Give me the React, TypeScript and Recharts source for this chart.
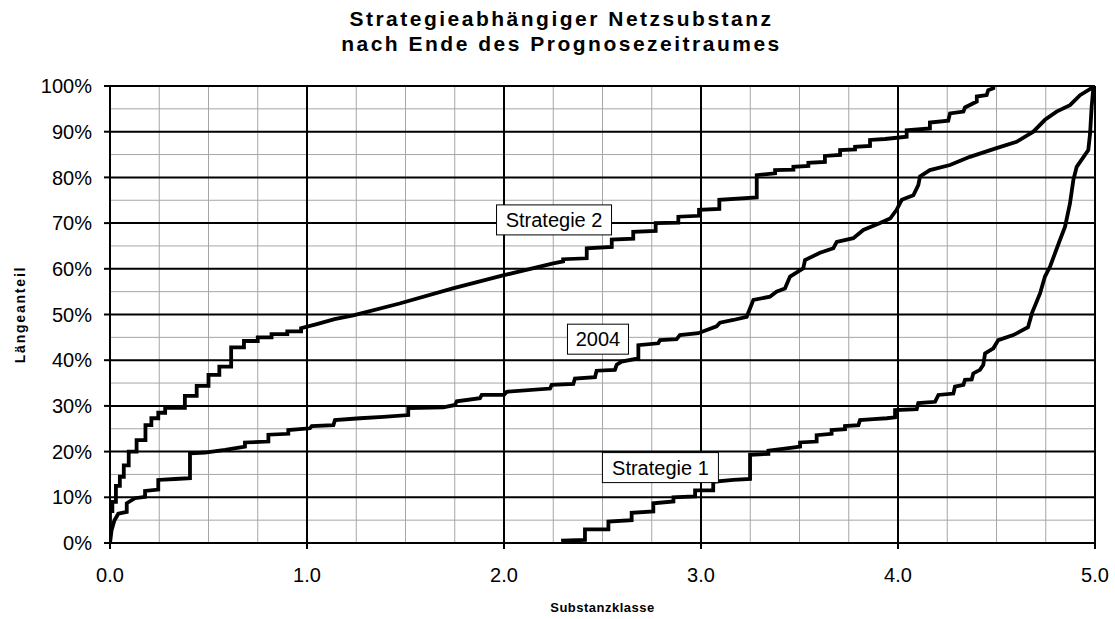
import { CartesianGrid, Line, LineChart, ReferenceDot, XAxis, YAxis } from "recharts";

const X_TICKS = [0, 1, 2, 3, 4, 5];
const Y_TICKS = [0, 10, 20, 30, 40, 50, 60, 70, 80, 90, 100];
const X_MINOR = [0.25, 0.5, 0.75, 1.25, 1.5, 1.75, 2.25, 2.5, 2.75, 3.25, 3.5, 3.75, 4.25, 4.5, 4.75];
const Y_MINOR = [5, 15, 25, 35, 45, 55, 65, 75, 85, 95];

// Substanzklasse / Längeanteil (%)
const STRATEGIE_2 = [
  { x: 0, y: 0 }, { x: 0, y: 7 }, { x: 0.012, y: 7 }, { x: 0.012, y: 9 }, { x: 0.03, y: 9 },
  { x: 0.03, y: 12.5 }, { x: 0.05, y: 12.5 }, { x: 0.05, y: 14.5 }, { x: 0.07, y: 14.5 },
  { x: 0.07, y: 17 }, { x: 0.095, y: 17 }, { x: 0.095, y: 20 }, { x: 0.135, y: 20 },
  { x: 0.135, y: 22.5 }, { x: 0.18, y: 22.5 }, { x: 0.18, y: 25.8 }, { x: 0.21, y: 25.8 },
  { x: 0.21, y: 27.3 }, { x: 0.245, y: 27.3 }, { x: 0.245, y: 28.5 }, { x: 0.28, y: 28.5 },
  { x: 0.28, y: 29.6 }, { x: 0.38, y: 29.6 }, { x: 0.38, y: 32.2 }, { x: 0.44, y: 32.2 },
  { x: 0.44, y: 34.4 }, { x: 0.5, y: 34.4 }, { x: 0.5, y: 36.8 }, { x: 0.555, y: 36.8 },
  { x: 0.555, y: 38.6 }, { x: 0.615, y: 38.6 }, { x: 0.615, y: 42.8 }, { x: 0.68, y: 42.8 },
  { x: 0.68, y: 44.2 }, { x: 0.75, y: 44.2 }, { x: 0.75, y: 45 }, { x: 0.82, y: 45 },
  { x: 0.82, y: 45.7 }, { x: 0.9, y: 45.7 }, { x: 0.9, y: 46.3 }, { x: 0.97, y: 46.3 },
  { x: 0.97, y: 47 }, { x: 1.05, y: 47.9 }, { x: 1.14, y: 49 }, { x: 1.235, y: 49.8 },
  { x: 1.47, y: 52.4 }, { x: 1.74, y: 55.7 }, { x: 2.0, y: 58.6 }, { x: 2.25, y: 61.2 },
  { x: 2.3, y: 61.6 }, { x: 2.3, y: 62.1 }, { x: 2.42, y: 62.3 }, { x: 2.42, y: 64.5 },
  { x: 2.547, y: 64.8 }, { x: 2.547, y: 66.4 }, { x: 2.656, y: 66.6 }, { x: 2.656, y: 68.1 },
  { x: 2.77, y: 68.3 }, { x: 2.77, y: 70 }, { x: 2.885, y: 70.1 }, { x: 2.885, y: 71.4 },
  { x: 2.99, y: 71.6 }, { x: 2.99, y: 72.9 }, { x: 3.093, y: 73.1 }, { x: 3.093, y: 75.1 },
  { x: 3.283, y: 75.6 }, { x: 3.283, y: 80.5 }, { x: 3.376, y: 80.9 }, { x: 3.376, y: 81.6 },
  { x: 3.469, y: 81.7 }, { x: 3.469, y: 82.3 }, { x: 3.545, y: 82.5 }, { x: 3.545, y: 83.2 },
  { x: 3.629, y: 83.4 }, { x: 3.629, y: 84.7 }, { x: 3.706, y: 84.9 }, { x: 3.706, y: 86 },
  { x: 3.782, y: 86.1 }, { x: 3.782, y: 86.7 }, { x: 3.858, y: 86.9 }, { x: 3.858, y: 88.2 },
  { x: 3.934, y: 88.4 }, { x: 4.044, y: 88.9 }, { x: 4.044, y: 90.3 }, { x: 4.162, y: 90.7 },
  { x: 4.162, y: 92 }, { x: 4.255, y: 92.4 }, { x: 4.264, y: 94 }, { x: 4.332, y: 94.4 },
  { x: 4.34, y: 95.3 }, { x: 4.4, y: 96.6 }, { x: 4.4, y: 97.7 }, { x: 4.45, y: 98 },
  { x: 4.458, y: 99.1 }, { x: 4.484, y: 99.5 }, { x: 4.484, y: 100 },
];

const JAHR_2004 = [
  { x: 0, y: 0 }, { x: 0.008, y: 2.8 }, { x: 0.022, y: 4.9 }, { x: 0.042, y: 6.4 },
  { x: 0.085, y: 6.8 }, { x: 0.085, y: 8.7 }, { x: 0.127, y: 9.8 }, { x: 0.178, y: 10.1 },
  { x: 0.178, y: 11.4 }, { x: 0.245, y: 11.7 }, { x: 0.245, y: 13.8 }, { x: 0.33, y: 14 },
  { x: 0.406, y: 14.2 }, { x: 0.406, y: 19.6 }, { x: 0.482, y: 19.8 }, { x: 0.584, y: 20.4 },
  { x: 0.685, y: 21.1 }, { x: 0.685, y: 22 }, { x: 0.804, y: 22.2 }, { x: 0.804, y: 23.7 },
  { x: 0.905, y: 23.9 }, { x: 0.905, y: 24.7 }, { x: 1.015, y: 25.1 }, { x: 1.024, y: 25.6 },
  { x: 1.134, y: 25.8 }, { x: 1.142, y: 26.9 }, { x: 1.269, y: 27.3 }, { x: 1.387, y: 27.6 },
  { x: 1.514, y: 28 }, { x: 1.514, y: 29.5 }, { x: 1.692, y: 29.7 }, { x: 1.751, y: 30.2 },
  { x: 1.76, y: 31 }, { x: 1.878, y: 31.7 }, { x: 1.887, y: 32.4 }, { x: 2.0, y: 32.4 },
  { x: 2.014, y: 33.1 }, { x: 2.234, y: 33.8 }, { x: 2.242, y: 34.6 }, { x: 2.352, y: 34.8 },
  { x: 2.36, y: 36 }, { x: 2.462, y: 36.3 }, { x: 2.47, y: 37.7 }, { x: 2.563, y: 37.9 },
  { x: 2.572, y: 39 }, { x: 2.597, y: 39.7 }, { x: 2.682, y: 40.4 }, { x: 2.682, y: 43.3 },
  { x: 2.783, y: 43.7 }, { x: 2.792, y: 44.4 }, { x: 2.876, y: 44.6 }, { x: 2.893, y: 45.5 },
  { x: 2.986, y: 45.9 }, { x: 3.079, y: 47.4 }, { x: 3.096, y: 48.2 }, { x: 3.164, y: 48.8 },
  { x: 3.232, y: 49.5 }, { x: 3.266, y: 53.2 }, { x: 3.35, y: 53.9 }, { x: 3.383, y: 55 },
  { x: 3.426, y: 55.7 }, { x: 3.452, y: 58.3 }, { x: 3.519, y: 60.1 }, { x: 3.528, y: 61.9 },
  { x: 3.604, y: 63.5 }, { x: 3.672, y: 64.5 }, { x: 3.689, y: 65.9 }, { x: 3.773, y: 66.7 },
  { x: 3.824, y: 68.5 }, { x: 3.909, y: 70 }, { x: 3.96, y: 71 }, { x: 3.993, y: 72.9 },
  { x: 4.019, y: 75.1 }, { x: 4.078, y: 76.1 }, { x: 4.103, y: 78.3 }, { x: 4.112, y: 80.2 },
  { x: 4.162, y: 81.6 }, { x: 4.264, y: 82.7 }, { x: 4.365, y: 84.5 }, { x: 4.5, y: 86.4 },
  { x: 4.602, y: 87.8 }, { x: 4.687, y: 90 }, { x: 4.746, y: 92.6 }, { x: 4.805, y: 94.4 },
  { x: 4.873, y: 95.8 }, { x: 4.924, y: 98 }, { x: 5, y: 100 },
];

const STRATEGIE_1 = [
  { x: 2.29, y: 0.5 }, { x: 2.411, y: 0.7 }, { x: 2.411, y: 3 }, { x: 2.53, y: 3 },
  { x: 2.53, y: 4.7 }, { x: 2.648, y: 5 }, { x: 2.648, y: 6.6 }, { x: 2.758, y: 6.9 },
  { x: 2.758, y: 8.7 }, { x: 2.86, y: 9.1 }, { x: 2.86, y: 10 }, { x: 2.97, y: 10.2 },
  { x: 2.97, y: 11.5 }, { x: 3.062, y: 11.5 }, { x: 3.062, y: 13.4 }, { x: 3.164, y: 13.8 },
  { x: 3.249, y: 14 }, { x: 3.249, y: 19.3 }, { x: 3.342, y: 19.5 }, { x: 3.342, y: 20.2 },
  { x: 3.435, y: 20.7 }, { x: 3.503, y: 21.1 }, { x: 3.503, y: 22 }, { x: 3.587, y: 22.2 },
  { x: 3.587, y: 23.6 }, { x: 3.663, y: 23.9 }, { x: 3.663, y: 24.7 }, { x: 3.731, y: 24.9 },
  { x: 3.731, y: 25.6 }, { x: 3.799, y: 25.8 }, { x: 3.807, y: 26.9 }, { x: 3.875, y: 27.1 },
  { x: 3.943, y: 27.3 }, { x: 3.985, y: 27.5 }, { x: 3.985, y: 29.1 }, { x: 4.095, y: 29.3 },
  { x: 4.103, y: 30.6 }, { x: 4.188, y: 30.9 }, { x: 4.205, y: 32.4 }, { x: 4.281, y: 32.7 },
  { x: 4.289, y: 34.2 }, { x: 4.332, y: 34.6 }, { x: 4.34, y: 35.7 }, { x: 4.374, y: 35.8 },
  { x: 4.382, y: 37.1 }, { x: 4.416, y: 37.9 }, { x: 4.433, y: 39 }, { x: 4.442, y: 41.5 },
  { x: 4.484, y: 42.6 }, { x: 4.509, y: 44.4 }, { x: 4.585, y: 45.5 }, { x: 4.66, y: 47.2 },
  { x: 4.68, y: 50.3 }, { x: 4.721, y: 54.6 }, { x: 4.746, y: 58.3 }, { x: 4.772, y: 60.5 },
  { x: 4.822, y: 66.3 }, { x: 4.848, y: 69.2 }, { x: 4.873, y: 74.3 }, { x: 4.89, y: 79.4 },
  { x: 4.907, y: 82.3 }, { x: 4.966, y: 86 }, { x: 4.975, y: 89.6 }, { x: 4.983, y: 95.5 },
  { x: 4.992, y: 99.8 }, { x: 5, y: 100 },
];

const LABELS = [
  { text: "Strategie 2", x: 2.254, y: 70.7, w: 115 },
  { text: "2004", x: 2.477, y: 44.6, w: 61 },
  { text: "Strategie 1", x: 2.794, y: 16.5, w: 116 },
];

const FONT = "Arial, 'Liberation Sans', sans-serif";
const TICK = { fill: "#000", fontSize: 20, fontFamily: FONT };

function BoxLabel({ cx, cy, text, w }: { cx?: number; cy?: number; text: string; w: number }) {
  if (cx == null || cy == null) return null;
  return (
    <g>
      <rect x={cx - w / 2} y={cy - 15} width={w} height={30} fill="#fff" stroke="#000" strokeWidth={1} />
      <text x={cx} y={cy + 7} textAnchor="middle" fontSize={20} fontFamily={FONT} fill="#000">
        {text}
      </text>
    </g>
  );
}

export default function App() {
  return (
    <div style={{ position: "absolute", left: 0, top: 0, width: 1115, height: 619, background: "#fff" }}>
      <div
        style={{
          position: "absolute",
          left: 0,
          width: 1123,
          top: 6,
          textAlign: "center",
          fontFamily: FONT,
          fontWeight: "bold",
          fontSize: 21,
          lineHeight: "25px",
          letterSpacing: 2.5,
        }}
      >
        Strategieabhängiger Netzsubstanz
        <br />
        nach Ende des Prognosezeitraumes
      </div>
      <LineChart width={1115} height={619} margin={{ top: 86, right: 20, left: 30, bottom: 0 }}>
        <CartesianGrid
          stroke="#a6a6a6"
          strokeWidth={1}
          verticalValues={X_MINOR}
          horizontalValues={Y_MINOR}
        />
        <CartesianGrid
          stroke="#000"
          strokeWidth={2}
          verticalValues={X_TICKS}
          horizontalValues={Y_TICKS}
        />
        <XAxis
          type="number"
          dataKey="x"
          domain={[0, 5]}
          ticks={X_TICKS}
          tickFormatter={(v) => Number(v).toFixed(1)}
          tick={TICK}
          tickSize={6}
          tickMargin={19}
          height={76}
          stroke="#000"
          strokeWidth={2}
          allowDataOverflow
          label={{
            content: ({ viewBox }: any) => (
              <text
                x={viewBox.x + viewBox.width / 2}
                y={612}
                textAnchor="middle"
                fontSize={13}
                fontWeight="bold"
                fontFamily={FONT}
                letterSpacing={0.5}
              >
                Substanzklasse
              </text>
            ),
          }}
        />
        <YAxis
          type="number"
          dataKey="y"
          domain={[0, 100]}
          ticks={Y_TICKS}
          tickFormatter={(v) => `${v}%`}
          tick={TICK}
          tickSize={6}
          tickMargin={12}
          width={80}
          stroke="#000"
          strokeWidth={2}
          allowDataOverflow
          label={{
            content: ({ viewBox }: any) => (
              <text
                x={25}
                y={viewBox.y + viewBox.height / 2}
                transform={`rotate(-90, 25, ${viewBox.y + viewBox.height / 2})`}
                textAnchor="middle"
                fontSize={14}
                fontWeight="bold"
                fontFamily={FONT}
                letterSpacing={1.8}
              >
                Längeanteil
              </text>
            ),
          }}
        />
        <Line data={STRATEGIE_2} dataKey="y" type="linear" stroke="#000" strokeWidth={3.8} dot={false} isAnimationActive={false} />
        <Line data={JAHR_2004} dataKey="y" type="linear" stroke="#000" strokeWidth={3.8} dot={false} isAnimationActive={false} />
        <Line data={STRATEGIE_1} dataKey="y" type="linear" stroke="#000" strokeWidth={3.8} dot={false} isAnimationActive={false} />
        {LABELS.map((l) => (
          <ReferenceDot
            key={l.text}
            x={l.x}
            y={l.y}
            r={0}
            shape={(p: any) => <BoxLabel cx={p.cx} cy={p.cy} text={l.text} w={l.w} />}
          />
        ))}
      </LineChart>
    </div>
  );
}
